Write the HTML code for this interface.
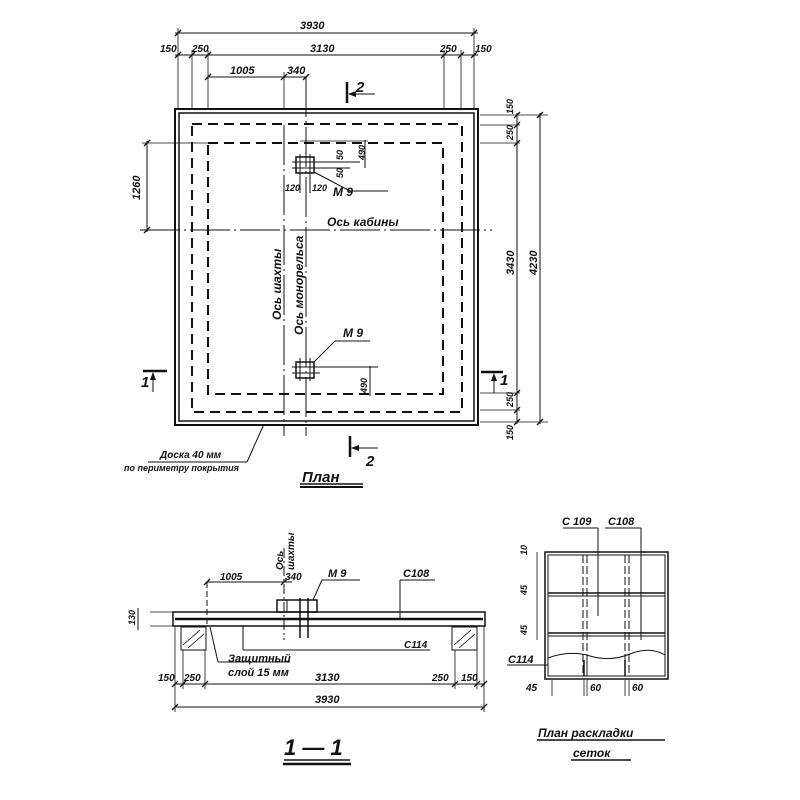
<!DOCTYPE html>
<html><head><meta charset="utf-8"><style>
body{margin:0;background:#fff}
svg{display:block}
text{font-family:"Liberation Sans","DejaVu Sans",sans-serif;font-style:italic;font-weight:bold;fill:#111}
</style></head><body>
<svg width="800" height="800" viewBox="0 0 800 800" xmlns="http://www.w3.org/2000/svg">
<defs>
<marker id="ar" markerWidth="8" markerHeight="6" refX="7" refY="3" orient="auto" markerUnits="userSpaceOnUse"><path d="M0,0 L8,3 L0,6 Z" fill="#111"/></marker>
</defs>
<g stroke="#111" fill="none" stroke-width="1">
<!-- PLAN frame -->
<rect x="175" y="109" width="303" height="316" stroke-width="2"/>
<rect x="179" y="113" width="295" height="308" stroke-width="1.5"/>
<rect x="192" y="124" width="270" height="288" stroke-width="2" stroke-dasharray="10,6"/>
<rect x="208" y="143" width="235" height="251" stroke-width="2" stroke-dasharray="10,6"/>
<!-- axes -->
<line x1="284" y1="125" x2="284" y2="436" stroke-dasharray="40,4,2,4"/>
<line x1="306" y1="77" x2="306" y2="436" stroke-dasharray="40,4,2,4"/>
<line x1="140" y1="230" x2="492" y2="230" stroke-dasharray="40,4,2,4"/>
<!-- top dims -->
<line x1="175" y1="33" x2="478" y2="33"/>
<line x1="175" y1="55" x2="478" y2="55"/>
<line x1="208" y1="77" x2="306" y2="77"/>
<g stroke-width="0.8">
<line x1="178" y1="28" x2="178" y2="109"/><line x1="474" y1="28" x2="474" y2="109"/>
<line x1="192" y1="50" x2="192" y2="109"/><line x1="208" y1="50" x2="208" y2="109"/>
<line x1="444" y1="50" x2="444" y2="109"/><line x1="461" y1="50" x2="461" y2="109"/>
<line x1="284" y1="72" x2="284" y2="109"/>
</g>
<g stroke-width="1.3">
<path d="M175,36 l6,-6 M471,36 l6,-6 M175,58 l6,-6 M189,58 l6,-6 M205,58 l6,-6 M441,58 l6,-6 M458,58 l6,-6 M471,58 l6,-6 M205,80 l6,-6 M281,80 l6,-6 M303,80 l6,-6"/>
<path d="M144,146 l6,-6 M144,233 l6,-6 M514,118 l6,-6 M514,128 l6,-6 M514,146 l6,-6 M514,396 l6,-6 M514,413 l6,-6 M514,425 l6,-6 M537,118 l6,-6 M537,425 l6,-6"/>
</g>
<!-- left 1260 -->
<line x1="147" y1="141" x2="147" y2="232"/>
<line x1="142" y1="143" x2="210" y2="143" stroke-width="0.8"/>
<!-- right dims -->
<line x1="517" y1="113" x2="517" y2="424"/>
<line x1="540" y1="113" x2="540" y2="424"/>
<line x1="480" y1="115" x2="548" y2="115" stroke-width="0.8"/>
<line x1="480" y1="125" x2="520" y2="125" stroke-width="0.8"/>
<line x1="480" y1="143" x2="520" y2="143" stroke-width="0.8"/>
<line x1="480" y1="393" x2="520" y2="393" stroke-width="0.8"/>
<line x1="480" y1="410" x2="520" y2="410" stroke-width="0.8"/>
<line x1="480" y1="422" x2="548" y2="422" stroke-width="0.8"/>
<!-- bolts top -->
<rect x="296" y="157" width="18" height="16" stroke-width="1.5"/>
<line x1="292" y1="162" x2="360" y2="162"/><line x1="292" y1="168" x2="350" y2="168"/>
<line x1="300" y1="154" x2="300" y2="176"/><line x1="310" y1="154" x2="310" y2="176"/>
<line x1="314" y1="172" x2="350" y2="191"/><line x1="350" y1="191" x2="388" y2="191"/>
<line x1="365" y1="140" x2="365" y2="168"/><line x1="300" y1="141" x2="368" y2="141" stroke-width="0.8"/>
<line x1="300" y1="176" x2="300" y2="193"/><line x1="310" y1="176" x2="310" y2="193"/>
<!-- bolts bottom -->
<rect x="296" y="362" width="18" height="16" stroke-width="1.5"/>
<line x1="292" y1="367" x2="378" y2="367"/><line x1="292" y1="373" x2="320" y2="373"/>
<line x1="300" y1="358" x2="300" y2="381"/><line x1="310" y1="358" x2="310" y2="381"/>
<line x1="314" y1="362" x2="335" y2="341"/><line x1="335" y1="341" x2="370" y2="341"/>
<line x1="370" y1="366" x2="370" y2="396"/>
<!-- section marks -->
<line x1="347" y1="82" x2="347" y2="103" stroke-width="2.5"/><line x1="375" y1="94" x2="349" y2="94" marker-end="url(#ar)"/>
<line x1="350" y1="436" x2="350" y2="457" stroke-width="2.5"/><line x1="378" y1="448" x2="352" y2="448" marker-end="url(#ar)"/>
<line x1="143" y1="371" x2="167" y2="371" stroke-width="2.5"/><line x1="153" y1="392" x2="153" y2="373" marker-end="url(#ar)"/>
<line x1="481" y1="372" x2="503" y2="372" stroke-width="2.5"/><line x1="494" y1="393" x2="494" y2="374" marker-end="url(#ar)"/>
<!-- leader doska -->
<line x1="148" y1="462" x2="247" y2="462"/><line x1="247" y1="462" x2="264" y2="424"/>
<!-- plan title underline -->
<line x1="300" y1="484" x2="363" y2="484" stroke-width="1.5"/><line x1="300" y1="487" x2="363" y2="487" stroke-width="2"/>

<!-- SECTION 1-1 -->
<rect x="173" y="612" width="312" height="14" stroke-width="1.5"/>
<line x1="175" y1="619" x2="483" y2="619" stroke-width="2.5"/>
<rect x="181" y="627" width="25" height="23"/>
<rect x="452" y="627" width="25" height="23"/>
<g stroke-width="0.8">
<line x1="183" y1="645" x2="200" y2="630"/><line x1="188" y1="648" x2="204" y2="634"/>
<line x1="454" y1="645" x2="471" y2="630"/><line x1="459" y1="648" x2="475" y2="634"/>
</g>
<rect x="277" y="600" width="40" height="12" stroke-width="1.5"/>
<line x1="287" y1="600" x2="287" y2="612"/><line x1="300" y1="598" x2="300" y2="638" stroke-width="1.5"/><line x1="308" y1="598" x2="308" y2="638" stroke-width="1.5"/>
<line x1="284" y1="548" x2="284" y2="640" stroke-dasharray="10,3,2,3"/>
<line x1="207" y1="582" x2="207" y2="626" stroke-dasharray="6,3"/>
<line x1="207" y1="582" x2="292" y2="582"/>
<line x1="313" y1="600" x2="322" y2="580"/><line x1="322" y1="580" x2="360" y2="580"/>
<line x1="400" y1="580" x2="435" y2="580"/><line x1="400" y1="580" x2="400" y2="618"/>
<line x1="244" y1="626" x2="220" y2="626"/>
<line x1="210" y1="627" x2="218" y2="662"/><line x1="218" y1="662" x2="290" y2="662"/>
<line x1="243" y1="650" x2="410" y2="650"/><line x1="243" y1="626" x2="243" y2="650"/>
<line x1="400" y1="650" x2="430" y2="650"/>
<line x1="150" y1="612" x2="175" y2="612" stroke-width="0.8"/><line x1="150" y1="626" x2="175" y2="626" stroke-width="0.8"/>
<line x1="138" y1="608" x2="138" y2="630"/>
<line x1="175" y1="684" x2="485" y2="684"/>
<line x1="175" y1="707" x2="485" y2="707"/>
<g stroke-width="0.8">
<line x1="175" y1="626" x2="175" y2="712"/><line x1="484" y1="626" x2="484" y2="712"/>
<line x1="183" y1="650" x2="183" y2="689"/><line x1="205" y1="650" x2="205" y2="689"/>
<line x1="455" y1="650" x2="455" y2="689"/><line x1="477" y1="650" x2="477" y2="689"/>
</g>
<g stroke-width="1.3">
<path d="M172,687 l6,-6 M180,687 l6,-6 M202,687 l6,-6 M452,687 l6,-6 M474,687 l6,-6 M481,687 l6,-6 M172,710 l6,-6 M481,710 l6,-6 M204,585 l6,-6 M281,585 l6,-6"/>
</g>
<line x1="284" y1="760" x2="350" y2="760" stroke-width="1.5"/><line x1="283" y1="764" x2="351" y2="764" stroke-width="2.5"/>

<!-- MESH PLAN -->
<rect x="545" y="552" width="123" height="127" stroke-width="1.5"/>
<rect x="548" y="555" width="117" height="121"/>
<line x1="548" y1="593" x2="665" y2="593" stroke-width="1.5"/><line x1="548" y1="596" x2="665" y2="596"/>
<line x1="548" y1="633" x2="665" y2="633" stroke-width="1.5"/><line x1="548" y1="636" x2="665" y2="636"/>
<line x1="583" y1="555" x2="583" y2="676" stroke-dasharray="8,3"/><line x1="587" y1="555" x2="587" y2="676" stroke-dasharray="8,3"/>
<line x1="625" y1="555" x2="625" y2="676" stroke-dasharray="8,3"/><line x1="629" y1="555" x2="629" y2="676" stroke-dasharray="8,3"/>
<path d="M548 658 Q570 650 590 656 T630 654 T665 655" stroke-width="1"/>
<line x1="584" y1="660" x2="584" y2="676" stroke-width="1.5"/><line x1="587" y1="660" x2="587" y2="676"/>
<line x1="625" y1="660" x2="625" y2="676" stroke-width="1.5"/>
<line x1="598" y1="528" x2="598" y2="616"/><line x1="563" y1="528" x2="598" y2="528"/>
<line x1="641" y1="528" x2="641" y2="640"/><line x1="605" y1="528" x2="641" y2="528"/>
<line x1="507" y1="665" x2="548" y2="665"/>
<line x1="537" y1="552" x2="537" y2="640" stroke-width="0.8"/>
<line x1="552" y1="680" x2="552" y2="696" stroke-width="0.8"/><line x1="584" y1="680" x2="584" y2="696" stroke-width="0.8"/><line x1="587" y1="680" x2="587" y2="696" stroke-width="0.8"/><line x1="625" y1="680" x2="625" y2="696" stroke-width="0.8"/><line x1="629" y1="680" x2="629" y2="696" stroke-width="0.8"/>
<line x1="537" y1="740" x2="665" y2="740" stroke-width="1.5"/>
<line x1="571" y1="760" x2="631" y2="760" stroke-width="1.5"/>
</g>
<g font-size="11">
<text x="300" y="29">3930</text>
<text x="160" y="52" font-size="10">150</text><text x="192" y="52" font-size="10">250</text>
<text x="310" y="52">3130</text>
<text x="440" y="52" font-size="10">250</text><text x="475" y="52" font-size="10">150</text>
<text x="230" y="74">1005</text><text x="287" y="74">340</text>
<text x="356" y="92" font-size="15">2</text>
<text x="366" y="466" font-size="15">2</text>
<text x="141" y="387" font-size="15">1</text>
<text x="500" y="385" font-size="15">1</text>
<text x="333" y="196" font-size="12">М 9</text>
<text x="343" y="337" font-size="12">М 9</text>
<text x="285" y="191" font-size="9">120</text><text x="312" y="191" font-size="9">120</text>
<text x="327" y="226" font-size="12">Ось кабины</text>
<text transform="translate(140,200) rotate(-90)" font-size="11">1260</text>
<text transform="translate(514,275) rotate(-90)">3430</text>
<text transform="translate(537,275) rotate(-90)">4230</text>
<text transform="translate(513,114) rotate(-90)" font-size="9">150</text>
<text transform="translate(513,140) rotate(-90)" font-size="9">250</text>
<text transform="translate(513,407) rotate(-90)" font-size="9">250</text>
<text transform="translate(513,440) rotate(-90)" font-size="9">150</text>
<text transform="translate(365,160) rotate(-90)" font-size="9">490</text>
<text transform="translate(343,160) rotate(-90)" font-size="9">50</text>
<text transform="translate(343,178) rotate(-90)" font-size="9">50</text>
<text transform="translate(367,393) rotate(-90)" font-size="9">490</text>
<text transform="translate(281,320) rotate(-90)" font-size="12">Ось шахты</text>
<text transform="translate(303,335) rotate(-90)" font-size="12">Ось монорельса</text>
<text x="160" y="458" font-size="10">Доска 40 мм</text>
<text x="124" y="471" font-size="9">по периметру покрытия</text>
<text x="302" y="482" font-size="15">План</text>
<text transform="translate(283,570) rotate(-90)" font-size="10">Ось</text>
<text transform="translate(294,570) rotate(-90)" font-size="10">шахты</text>
<text x="220" y="580" font-size="10">1005</text><text x="285" y="580" font-size="10">340</text>
<text x="328" y="577" font-size="11">М 9</text>
<text x="403" y="577" font-size="11">С108</text>
<text x="404" y="648" font-size="10">С114</text>
<text x="228" y="662" font-size="11">Защитный</text>
<text x="228" y="676" font-size="11">слой 15 мм</text>
<text transform="translate(135,625) rotate(-90)" font-size="9">130</text>
<text x="158" y="681" font-size="10">150</text><text x="184" y="681" font-size="10">250</text>
<text x="315" y="681" font-size="11">3130</text>
<text x="432" y="681" font-size="10">250</text><text x="461" y="681" font-size="10">150</text>
<text x="315" y="703" font-size="11">3930</text>
<text x="284" y="755" font-size="22">1 — 1</text>
<text x="562" y="525" font-size="11">С 109</text><text x="608" y="525" font-size="11">С108</text>
<text transform="translate(527,555) rotate(-90)" font-size="9">10</text>
<text transform="translate(527,595) rotate(-90)" font-size="9">45</text>
<text transform="translate(527,635) rotate(-90)" font-size="9">45</text>
<text x="508" y="663" font-size="11">С114</text>
<text x="526" y="691" font-size="10">45</text><text x="590" y="691" font-size="10">60</text><text x="632" y="691" font-size="10">60</text>
<text x="538" y="737" font-size="12">План раскладки</text>
<text x="573" y="757" font-size="12">сеток</text>
</g>
</svg>
</body></html>
